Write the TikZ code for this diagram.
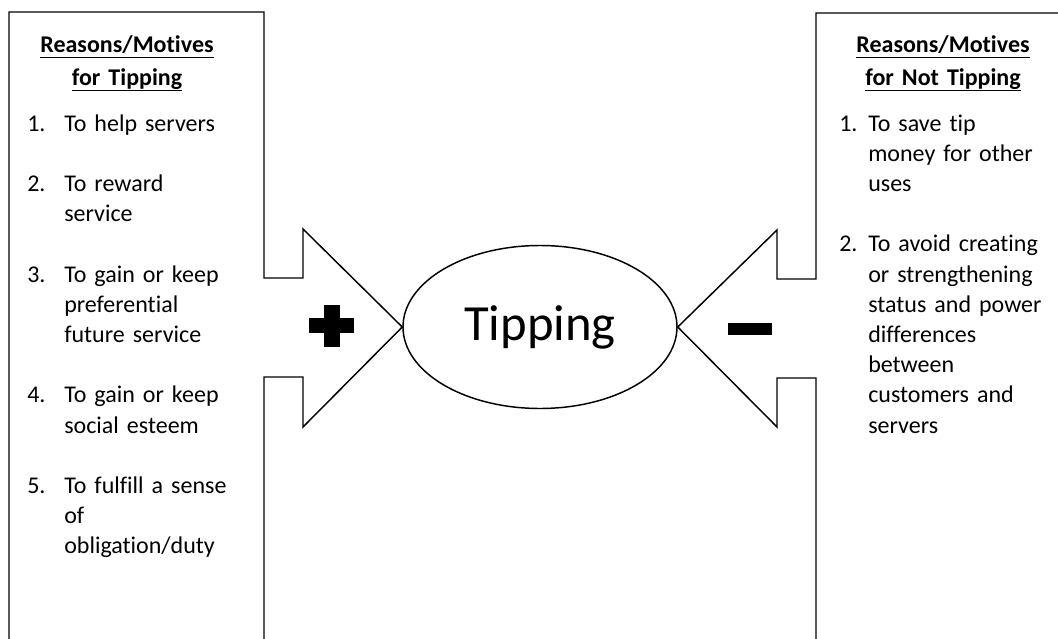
\documentclass[tikz,border=0pt]{standalone}
\usepackage{fontspec}
\setmainfont{Carlito}[Ligatures=NoCommon,WordSpace=0.85]
\usetikzlibrary{shapes.geometric}
\newcommand{\headul}[1]{\leavevmode\setbox0\hbox{#1}\rlap{\vrule height -3.6pt depth 4.7pt width \wd0}\box0}

\begin{document}
\begin{tikzpicture}[x=0.75pt,y=0.75pt]
\tikzstyle{every node}+=[inner sep=0pt]
\tikzset{
  heading/.style={anchor=base, text width=200pt, align=center, font=\fontsize{18}{24.75}\selectfont\bfseries},
  num/.style={anchor=base west, font=\fontsize{18}{22.65}\selectfont},
  reason/.style={anchor=base west, text width=220pt, align=left, font=\fontsize{18}{22.65}\selectfont},
  frame/.style={black, line width=1.1pt, line join=miter},
  sign/.style={fill=black}
}
\useasboundingbox (0,0) rectangle (1058,-639);
\clip (0,0) rectangle (1058,-639);
\node [draw, ellipse, line width=1.1pt, minimum width=205.5pt, minimum height=122.25pt, font=\fontsize{38}{46}\selectfont] (tipping) at (540,-327) {Tipping};
\draw [frame] (9,-650) -- (9,-12) -- (264,-12) -- (264,-278) -- (303,-278) -- (303,-229) -- (tipping.west) -- (303,-427) -- (303,-377) -- (264,-377) -- (264,-650);
\draw [frame] (1070,-13) -- (816,-13) -- (816,-279) -- (777,-279) -- (777,-230) -- (tipping.east) -- (777,-427) -- (777,-378) -- (816,-378) -- (816,-650);
\fill [sign] (309,-318) rectangle (354,-333);
\fill [sign] (324,-305) rectangle (340,-347);
\fill [sign] (728,-323) rectangle (772,-335);
\node [heading] (forhead) at (127,-52) {\headul{Reasons/Motives}\\\headul{for Tipping}};
\node [heading] (againsthead) at (943,-52) {\headul{Reasons/Motives}\\\headul{for Not Tipping}};
\node [num] (for1n) at (27,-131) {1.};
\node [reason] (for1) at (64,-131) {To help servers};
\node [num] (for2n) at (27,-191.4) {2.};
\node [reason] (for2) at (64,-191.4) {To reward\\service};
\node [num] (for3n) at (27,-282) {3.};
\node [reason] (for3) at (64,-282) {To gain or keep\\preferential\\future service};
\node [num] (for4n) at (27,-402.8) {4.};
\node [reason] (for4) at (64,-402.8) {To gain or keep\\social esteem};
\node [num] (for5n) at (27,-493.4) {5.};
\node [reason] (for5) at (64,-493.4) {To fulfill a sense\\of\\obligation/duty};
\node [num] (against1n) at (839,-131) {1.};
\node [reason] (against1) at (868,-131) {To save tip\\money for other\\uses};
\node [num] (against2n) at (839,-251.8) {2.};
\node [reason] (against2) at (868,-251.8) {To avoid creating\\or strengthening\\status and power\\differences\\between\\customers and\\servers};
\end{tikzpicture}
\end{document}
